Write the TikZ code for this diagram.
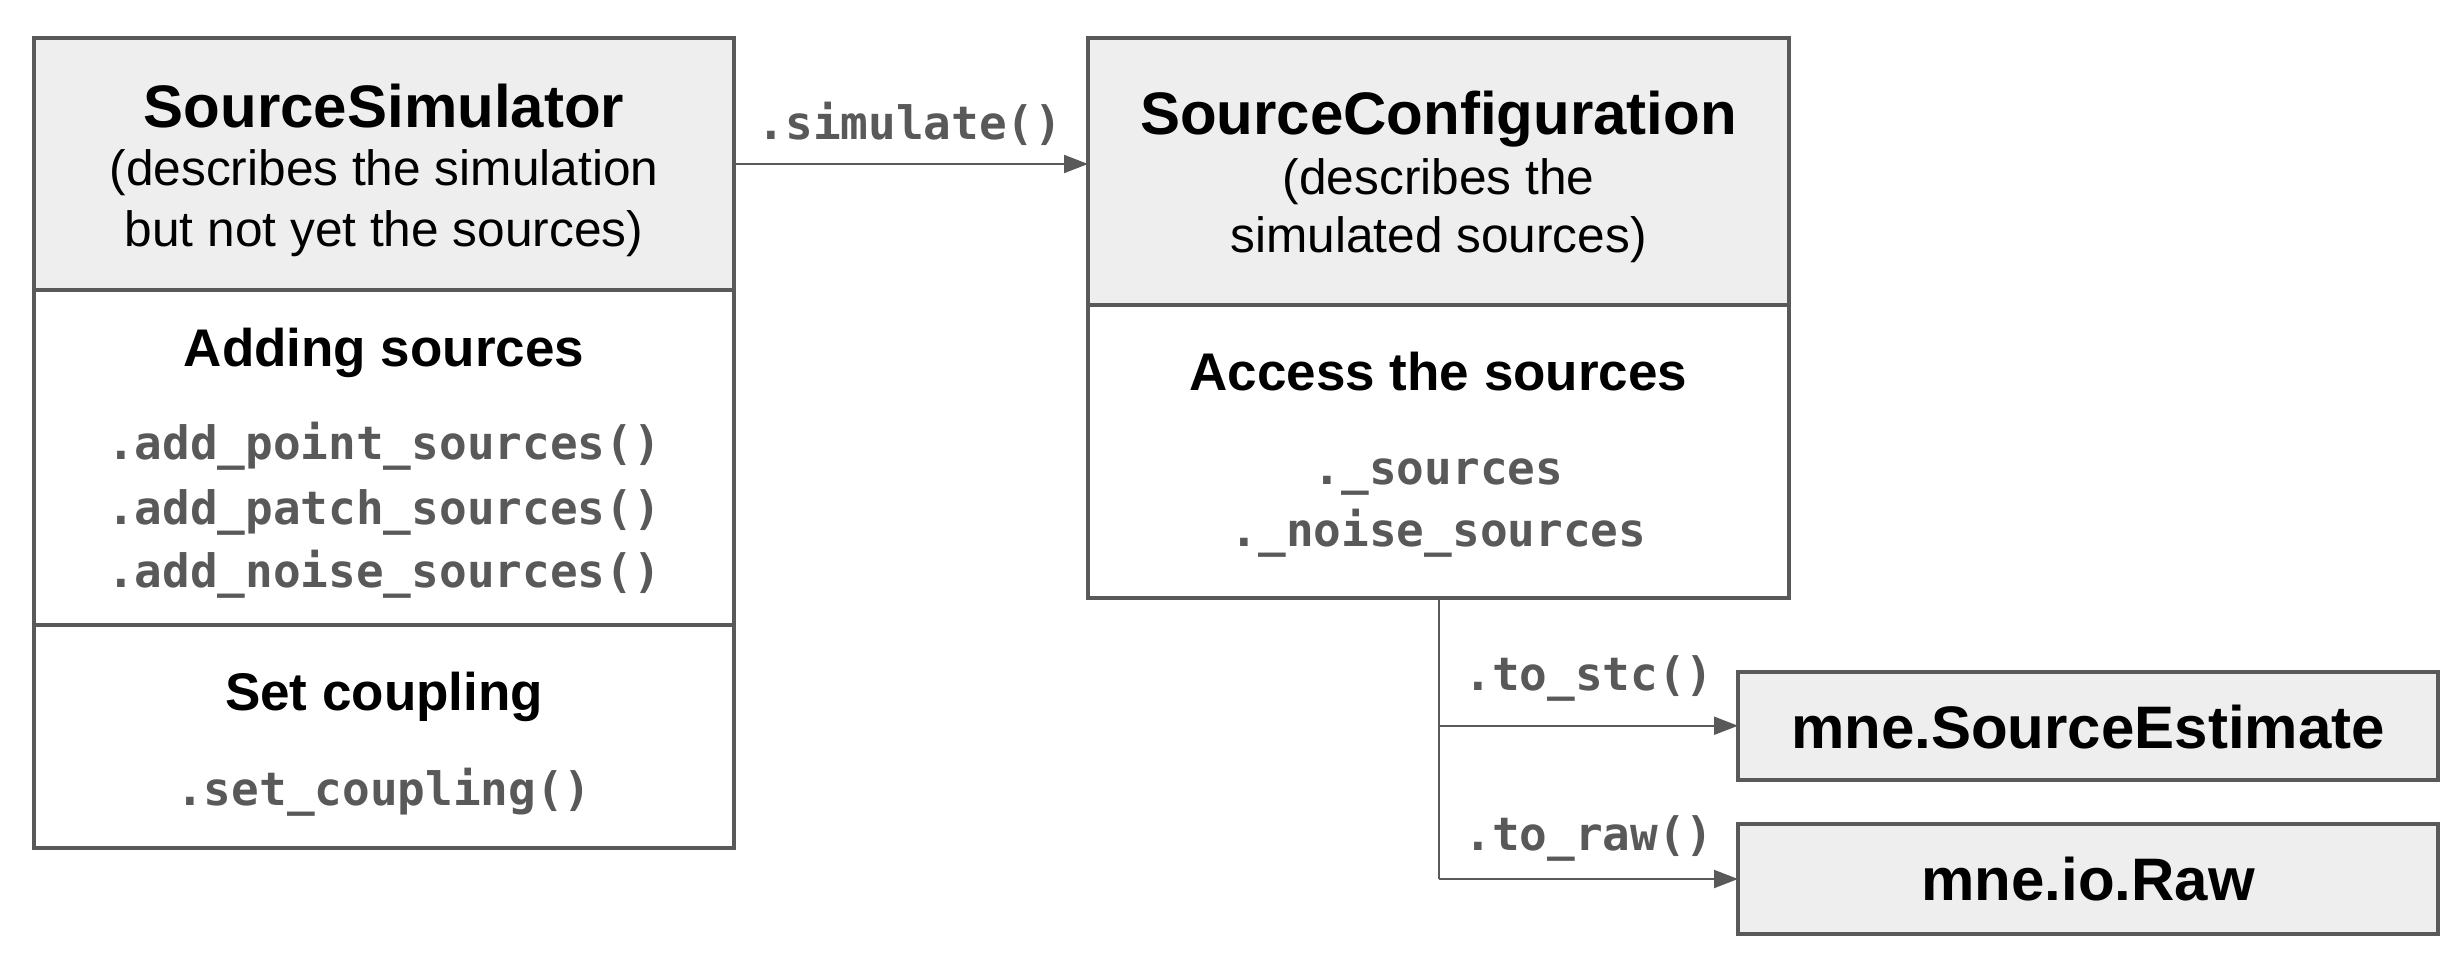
\documentclass[tikz,border=0pt]{standalone}
\usepackage{fontspec}
\setmainfont{Liberation Sans}
\setmonofont{DejaVu Sans Mono}
\usetikzlibrary{arrows.meta}
\definecolor{lc}{HTML}{595959}
\definecolor{hf}{HTML}{EEEEEE}
\begin{document}
\begin{tikzpicture}[x=0.5pt,y=-0.5pt,
  compart/.style={draw=lc, line width=2pt, anchor=north west, inner sep=0pt, outer sep=0pt},
  titletxt/.style={anchor=base, inner sep=0pt, font=\fontsize{30pt}{36pt}\selectfont\bfseries},
  subtxt/.style={anchor=base, inner sep=0pt, font=\fontsize{24.8pt}{30pt}\selectfont},
  secttxt/.style={anchor=base, inner sep=0pt, font=\fontsize{26.5pt}{32pt}\selectfont\bfseries},
  codetxt/.style={anchor=base, inner sep=0pt, text=lc, font=\fontsize{23pt}{28pt}\selectfont\ttfamily\bfseries},
  conn/.style={draw=lc, line width=1pt, -{Triangle[length=12pt,width=9pt]}},
  plainconn/.style={draw=lc, line width=1pt}
]
\useasboundingbox (0,0) rectangle (2462,957);

% SourceSimulator
\node[compart, fill=hf, minimum width=350pt, minimum height=126pt] (simhead) at (34,38) {};
\node[compart, minimum width=350pt, minimum height=167.5pt] (simadd) at (34,290) {};
\node[compart, minimum width=350pt, minimum height=111.5pt] (simcoup) at (34,625) {};
\node[titletxt] (t1) at (384,128) {SourceSimulator};
\node[subtxt] (s1a) at (384,186) {(describes the simulation};
\node[subtxt] (s1b) at (384,247) {but not yet the sources)};
\node[secttxt] (h1) at (384,366) {Adding sources};
\node[codetxt] (c1) at (384,459) {.add\_point\_sources()};
\node[codetxt] (c2) at (384,524) {.add\_patch\_sources()};
\node[codetxt] (c3) at (384,587) {.add\_noise\_sources()};
\node[secttxt] (h2) at (384,710) {Set coupling};
\node[codetxt] (c4) at (384,805) {.set\_coupling()};

% SourceConfiguration
\node[compart, fill=hf, minimum width=350.5pt, minimum height=133.25pt] (confhead) at (1088,38) {};
\node[compart, minimum width=350.5pt, minimum height=146.75pt] (confacc) at (1088,304.5) {};
\node[titletxt] (t2) at (1438.5,135) {SourceConfiguration};
\node[subtxt] (s2a) at (1438.5,195) {(describes the};
\node[subtxt] (s2b) at (1438.5,253) {simulated sources)};
\node[secttxt] (h3) at (1438.5,390.5) {Access the sources};
\node[codetxt] (c5) at (1438.5,484) {.\_sources};
\node[codetxt] (c6) at (1438.5,546) {.\_noise\_sources};

% Outputs
\node[compart, fill=hf, minimum width=350pt, minimum height=53.75pt] (se) at (1738,672) {};
\node[titletxt] (t3) at (2088,748) {mne.SourceEstimate};
\node[compart, fill=hf, minimum width=350pt, minimum height=55pt] (raw) at (1738,824) {};
\node[titletxt] (t4) at (2088,900.5) {mne.io.Raw};

% Connectors
\draw[conn] (simhead.east) -- (simhead.east -| confhead.west);
\node[codetxt] (l1) at (910,140) {.simulate()};
\draw[plainconn] (confacc.south) -- (confacc.south |- raw.west);
\draw[conn] (confacc.south |- se.west) -- (se.west);
\draw[conn] (confacc.south |- raw.west) -- (raw.west);
\node[codetxt] (l2) at (1589,690) {.to\_stc()};
\node[codetxt] (l3) at (1589,850) {.to\_raw()};
\end{tikzpicture}
\end{document}
